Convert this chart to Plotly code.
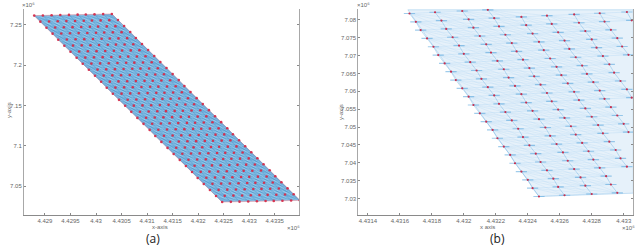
import plotly.graph_objects as go

# ---------- panel (a): outline and red nodes, one list per diagonal (axis units of 1e6) ----------
a_outline_x = [4.42879, 4.43031, 4.43399, 4.43247, 4.42879]
a_outline_y = [7.2616, 7.2637, 7.0322, 7.0301, 7.2616]
a_x = [
 [4.42879,4.42891,4.42903,4.42915,4.42926,4.42938,4.42950,4.42962,4.42974,4.42986,4.42998,4.43010,4.43021,4.43033,4.43045,4.43057,4.43069,4.43081,4.43093,4.43105,4.43116,4.43128,4.43140,4.43152,4.43164,4.43176,4.43188,4.43199,4.43211,4.43223,4.43235,4.43247],
 [4.42896,4.42908,4.42920,4.42932,4.42943,4.42955,4.42967,4.42979,4.42991,4.43003,4.43015,4.43027,4.43038,4.43050,4.43062,4.43074,4.43086,4.43098,4.43110,4.43122,4.43133,4.43145,4.43157,4.43169,4.43181,4.43193,4.43205,4.43216,4.43228,4.43240,4.43252,4.43264],
 [4.42913,4.42925,4.42937,4.42949,4.42960,4.42972,4.42984,4.42996,4.43008,4.43020,4.43032,4.43044,4.43055,4.43067,4.43079,4.43091,4.43103,4.43115,4.43127,4.43139,4.43150,4.43162,4.43174,4.43186,4.43198,4.43210,4.43222,4.43233,4.43245,4.43257,4.43269,4.43281],
 [4.42930,4.42942,4.42954,4.42966,4.42977,4.42989,4.43001,4.43013,4.43025,4.43037,4.43049,4.43061,4.43072,4.43084,4.43096,4.43108,4.43120,4.43132,4.43144,4.43156,4.43167,4.43179,4.43191,4.43203,4.43215,4.43227,4.43239,4.43250,4.43262,4.43274,4.43286,4.43298],
 [4.42947,4.42959,4.42971,4.42983,4.42994,4.43006,4.43018,4.43030,4.43042,4.43054,4.43066,4.43078,4.43089,4.43101,4.43113,4.43125,4.43137,4.43149,4.43161,4.43173,4.43184,4.43196,4.43208,4.43220,4.43232,4.43244,4.43256,4.43267,4.43279,4.43291,4.43303,4.43315],
 [4.42964,4.42976,4.42988,4.43000,4.43011,4.43023,4.43035,4.43047,4.43059,4.43071,4.43083,4.43095,4.43106,4.43118,4.43130,4.43142,4.43154,4.43166,4.43178,4.43190,4.43201,4.43213,4.43225,4.43237,4.43249,4.43261,4.43273,4.43284,4.43296,4.43308,4.43320,4.43332],
 [4.42980,4.42992,4.43004,4.43016,4.43027,4.43039,4.43051,4.43063,4.43075,4.43087,4.43099,4.43111,4.43122,4.43134,4.43146,4.43158,4.43170,4.43182,4.43194,4.43206,4.43217,4.43229,4.43241,4.43253,4.43265,4.43277,4.43289,4.43300,4.43312,4.43324,4.43336,4.43348],
 [4.42997,4.43009,4.43021,4.43033,4.43044,4.43056,4.43068,4.43080,4.43092,4.43104,4.43116,4.43128,4.43139,4.43151,4.43163,4.43175,4.43187,4.43199,4.43211,4.43223,4.43234,4.43246,4.43258,4.43270,4.43282,4.43294,4.43306,4.43317,4.43329,4.43341,4.43353,4.43365],
 [4.43014,4.43026,4.43038,4.43050,4.43061,4.43073,4.43085,4.43097,4.43109,4.43121,4.43133,4.43145,4.43156,4.43168,4.43180,4.43192,4.43204,4.43216,4.43228,4.43240,4.43251,4.43263,4.43275,4.43287,4.43299,4.43311,4.43323,4.43334,4.43346,4.43358,4.43370,4.43382],
 [4.43031,4.43043,4.43055,4.43067,4.43078,4.43090,4.43102,4.43114,4.43126,4.43138,4.43150,4.43162,4.43173,4.43185,4.43197,4.43209,4.43221,4.43233,4.43245,4.43257,4.43268,4.43280,4.43292,4.43304,4.43316,4.43328,4.43340,4.43351,4.43363,4.43375,4.43387,4.43399],
]
a_y = [
 [7.2616,7.2541,7.2466,7.2392,7.2317,7.2242,7.2168,7.2093,7.2018,7.1944,7.1869,7.1794,7.1720,7.1645,7.1570,7.1496,7.1421,7.1346,7.1272,7.1197,7.1122,7.1048,7.0973,7.0898,7.0824,7.0749,7.0674,7.0600,7.0525,7.0450,7.0376,7.0301],
 [7.2618,7.2543,7.2468,7.2394,7.2319,7.2244,7.2170,7.2095,7.2020,7.1946,7.1871,7.1796,7.1722,7.1647,7.1572,7.1498,7.1423,7.1348,7.1274,7.1199,7.1124,7.1050,7.0975,7.0900,7.0826,7.0751,7.0676,7.0602,7.0527,7.0452,7.0378,7.0303],
 [7.2621,7.2546,7.2471,7.2397,7.2322,7.2247,7.2173,7.2098,7.2023,7.1949,7.1874,7.1799,7.1725,7.1650,7.1575,7.1501,7.1426,7.1351,7.1277,7.1202,7.1127,7.1053,7.0978,7.0903,7.0829,7.0754,7.0679,7.0605,7.0530,7.0455,7.0381,7.0306],
 [7.2623,7.2548,7.2473,7.2399,7.2324,7.2249,7.2175,7.2100,7.2025,7.1951,7.1876,7.1801,7.1727,7.1652,7.1577,7.1503,7.1428,7.1353,7.1279,7.1204,7.1129,7.1055,7.0980,7.0905,7.0831,7.0756,7.0681,7.0607,7.0532,7.0457,7.0383,7.0308],
 [7.2625,7.2550,7.2475,7.2401,7.2326,7.2251,7.2177,7.2102,7.2027,7.1953,7.1878,7.1803,7.1729,7.1654,7.1579,7.1505,7.1430,7.1355,7.1281,7.1206,7.1131,7.1057,7.0982,7.0907,7.0833,7.0758,7.0683,7.0609,7.0534,7.0459,7.0385,7.0310],
 [7.2628,7.2553,7.2478,7.2404,7.2329,7.2254,7.2180,7.2105,7.2030,7.1956,7.1881,7.1806,7.1732,7.1657,7.1582,7.1508,7.1433,7.1358,7.1284,7.1209,7.1134,7.1060,7.0985,7.0910,7.0836,7.0761,7.0686,7.0612,7.0537,7.0462,7.0388,7.0313],
 [7.2630,7.2555,7.2480,7.2406,7.2331,7.2256,7.2182,7.2107,7.2032,7.1958,7.1883,7.1808,7.1734,7.1659,7.1584,7.1510,7.1435,7.1360,7.1286,7.1211,7.1136,7.1062,7.0987,7.0912,7.0838,7.0763,7.0688,7.0614,7.0539,7.0464,7.0390,7.0315],
 [7.2632,7.2557,7.2482,7.2408,7.2333,7.2258,7.2184,7.2109,7.2034,7.1960,7.1885,7.1810,7.1736,7.1661,7.1586,7.1512,7.1437,7.1362,7.1288,7.1213,7.1138,7.1064,7.0989,7.0914,7.0840,7.0765,7.0690,7.0616,7.0541,7.0466,7.0392,7.0317],
 [7.2635,7.2560,7.2485,7.2411,7.2336,7.2261,7.2187,7.2112,7.2037,7.1963,7.1888,7.1813,7.1739,7.1664,7.1589,7.1515,7.1440,7.1365,7.1291,7.1216,7.1141,7.1067,7.0992,7.0917,7.0843,7.0768,7.0693,7.0619,7.0544,7.0469,7.0395,7.0320],
 [7.2637,7.2562,7.2487,7.2413,7.2338,7.2263,7.2189,7.2114,7.2039,7.1965,7.1890,7.1815,7.1741,7.1666,7.1591,7.1517,7.1442,7.1367,7.1293,7.1218,7.1143,7.1069,7.0994,7.0919,7.0845,7.0770,7.0695,7.0621,7.0546,7.0471,7.0397,7.0322],
]

# ---------- panel (b): outline and red nodes, one list per row ----------
b_outline_x = [4.43165, 4.43306, 4.43306, 4.43247, 4.43165]
b_outline_y = [7.0828, 7.0828, 7.0315, 7.03057, 7.0828]
b_x = [
 [4.43166,4.43182,4.43199,4.43215],
 [4.43170,4.43186,4.43203,4.43219,4.43236,4.43252,4.43269,4.43285,4.43302],
 [4.43173,4.43189,4.43206,4.43222,4.43239,4.43255,4.43272,4.43288,4.43305],
 [4.43177,4.43193,4.43210,4.43226,4.43243,4.43259,4.43276,4.43292],
 [4.43181,4.43197,4.43214,4.43230,4.43247,4.43263,4.43280,4.43296],
 [4.43184,4.43200,4.43217,4.43233,4.43250,4.43266,4.43283,4.43299],
 [4.43188,4.43204,4.43221,4.43237,4.43254,4.43270,4.43287,4.43303],
 [4.43192,4.43208,4.43225,4.43241,4.43258,4.43274,4.43291],
 [4.43195,4.43211,4.43228,4.43244,4.43261,4.43277,4.43294],
 [4.43199,4.43215,4.43232,4.43248,4.43265,4.43281,4.43298],
 [4.43203,4.43219,4.43236,4.43252,4.43269,4.43285,4.43302],
 [4.43206,4.43222,4.43239,4.43255,4.43272,4.43288,4.43305],
 [4.43210,4.43226,4.43243,4.43259,4.43276,4.43292],
 [4.43214,4.43230,4.43247,4.43263,4.43280,4.43296],
 [4.43218,4.43234,4.43251,4.43267,4.43284,4.43300],
 [4.43221,4.43237,4.43254,4.43270,4.43287,4.43303],
 [4.43225,4.43241,4.43258,4.43274,4.43291],
 [4.43229,4.43245,4.43262,4.43278,4.43295],
 [4.43232,4.43248,4.43265,4.43281,4.43298],
 [4.43236,4.43252,4.43269,4.43285,4.43302],
 [4.43240,4.43256,4.43273,4.43289],
 [4.43243,4.43259,4.43276,4.43292],
 [4.43247,4.43263,4.43280,4.43296],
]
b_y = [
 [7.08176,7.08210,7.08245,7.08279],
 [7.07943,7.07977,7.08012,7.08046,7.08080,7.08115,7.08149,7.08183,7.08217],
 [7.07711,7.07745,7.07780,7.07814,7.07848,7.07883,7.07917,7.07951,7.07985],
 [7.07478,7.07512,7.07547,7.07581,7.07615,7.07650,7.07684,7.07718],
 [7.07245,7.07279,7.07314,7.07348,7.07382,7.07417,7.07451,7.07485],
 [7.07013,7.07047,7.07082,7.07116,7.07150,7.07185,7.07219,7.07253],
 [7.06780,7.06814,7.06849,7.06883,7.06917,7.06952,7.06986,7.07020],
 [7.06547,7.06581,7.06616,7.06650,7.06684,7.06719,7.06753],
 [7.06314,7.06348,7.06383,7.06417,7.06451,7.06486,7.06520],
 [7.06082,7.06116,7.06151,7.06185,7.06219,7.06254,7.06288],
 [7.05849,7.05883,7.05918,7.05952,7.05986,7.06021,7.06055],
 [7.05616,7.05650,7.05685,7.05719,7.05753,7.05788,7.05822],
 [7.05384,7.05418,7.05453,7.05487,7.05521,7.05556],
 [7.05151,7.05185,7.05220,7.05254,7.05288,7.05323],
 [7.04918,7.04952,7.04987,7.05021,7.05055,7.05090],
 [7.04686,7.04720,7.04755,7.04789,7.04823,7.04858],
 [7.04453,7.04487,7.04522,7.04556,7.04590],
 [7.04220,7.04254,7.04289,7.04323,7.04357],
 [7.03987,7.04021,7.04056,7.04090,7.04124],
 [7.03755,7.03789,7.03824,7.03858,7.03892],
 [7.03522,7.03556,7.03591,7.03625],
 [7.03289,7.03323,7.03358,7.03392],
 [7.03057,7.03091,7.03126,7.03160],
]

# ---------- ticks ----------
a_xticks = [4.429, 4.4295, 4.43, 4.4305, 4.431, 4.4315, 4.432, 4.4325, 4.433, 4.4335]
a_xlabels = ["4.429", "4.4295", "4.43", "4.4305", "4.431", "4.4315", "4.432", "4.4325", "4.433", "4.4335"]
a_yticks = [7.05, 7.1, 7.15, 7.2, 7.25]
a_ylabels = ["7.05", "7.1", "7.15", "7.2", "7.25"]
b_xticks = [4.4314, 4.4316, 4.4318, 4.432, 4.4322, 4.4324, 4.4326, 4.4328, 4.433]
b_xlabels = ["4.4314", "4.4316", "4.4318", "4.432", "4.4322", "4.4324", "4.4326", "4.4328", "4.433"]
b_yticks = [7.03, 7.035, 7.04, 7.045, 7.05, 7.055, 7.06, 7.065, 7.07, 7.075, 7.08]
b_ylabels = ["7.03", "7.035", "7.04", "7.045", "7.05", "7.055", "7.06", "7.065", "7.07", "7.075", "7.08"]


def flat(nested):
    return [v for row in nested for v in row]


def links(nx, ny, di, dj):
    """Polyline pieces joining node (r, c) to node (r + di, c + dj)."""
    xs, ys = [], []
    for r in range(len(nx)):
        for c in range(len(nx[r])):
            r2, c2 = r + di, c + dj
            if 0 <= r2 < len(nx) and 0 <= c2 < len(nx[r2]):
                xs += [nx[r][c], nx[r2][c2], None]
                ys += [ny[r][c], ny[r2][c2], None]
    return xs, ys


def line(xs, ys, color, width, ax):
    return go.Scatter(x=xs, y=ys, mode="lines", line=dict(color=color, width=width),
                      xaxis="x" + ax, yaxis="y" + ax, hoverinfo="skip", showlegend=False)


fig = go.Figure()

# Panel (a)
fig.add_trace(go.Scatter(x=a_outline_x, y=a_outline_y, mode="lines", fill="toself",
                         fillcolor="#74b4df", line=dict(color="rgba(225,120,135,0.6)", width=0.8),
                         xaxis="x", yaxis="y", hoverinfo="skip", showlegend=False))
for (di, dj), col, w in [((1, 2), "rgba(215,238,250,0.40)", 0.7),
                         ((1, 3), "rgba(45,125,190,0.35)", 0.7),
                         ((2, 1), "rgba(215,238,250,0.35)", 0.7),
                         ((1, 1), "rgba(45,125,190,0.30)", 0.7),
                         ((0, 1), "rgba(55,130,195,0.40)", 0.8)]:
    xs, ys = links(a_x, a_y, di, dj)
    fig.add_trace(line(xs, ys, col, w, ""))
fig.add_trace(go.Scatter(x=flat(a_x), y=flat(a_y), mode="markers",
                         marker=dict(color="rgba(214,45,75,0.95)", size=2.6, line=dict(width=0)),
                         xaxis="x", yaxis="y", hoverinfo="skip", showlegend=False))

# Panel (b)
fig.add_trace(go.Scatter(x=b_outline_x, y=b_outline_y, mode="lines", fill="toself",
                         fillcolor="#e6f1fa", line=dict(color="rgba(130,188,230,0.7)", width=0.6),
                         xaxis="x2", yaxis="y2", hoverinfo="skip", showlegend=False))
for (di, dj), col, w in [((0, 1), "rgba(165,208,240,0.6)", 0.5),
                         ((1, 1), "rgba(170,212,242,0.55)", 0.5),
                         ((1, 2), "rgba(170,212,242,0.5)", 0.5),
                         ((2, 1), "rgba(170,212,242,0.5)", 0.5),
                         ((1, 0), "rgba(105,175,225,0.7)", 0.6)]:
    xs, ys = links(b_x, b_y, di, dj)
    fig.add_trace(line(xs, ys, col, w, "2"))
fig.add_trace(go.Scatter(x=flat(b_x), y=flat(b_y), mode="markers",
                         marker=dict(symbol="line-ew", size=8, line=dict(color="rgba(95,170,222,0.6)", width=1.2)),
                         xaxis="x2", yaxis="y2", hoverinfo="skip", showlegend=False))
fig.add_trace(go.Scatter(x=flat(b_x), y=flat(b_y), mode="markers",
                         marker=dict(color="#c9304f", size=2.2, line=dict(width=0)),
                         xaxis="x2", yaxis="y2", hoverinfo="skip", showlegend=False))

AXC = "#8a8a8a"
TXT = "#666666"
W, H = 640, 246
ydom = [1 - 215 / H, 1 - 8.7 / H]
dom_a = [24 / W, 299.3 / W]
dom_b = [358.3 / W, 633.3 / W]
range_ax = [4.42859, 4.43398]
range_ay = [7.014, 7.2702]
range_bx = [4.43134, 4.43306]
range_by = [7.02539, 7.0831]


def xaxis(dom, rng, tv, tt, anchor):
    return dict(domain=dom, range=rng, tickvals=tv, ticktext=tt, ticks="inside", ticklen=2,
                tickcolor=AXC, tickwidth=1, showgrid=False, zeroline=False, showline=True,
                linecolor=AXC, linewidth=1, anchor=anchor,
                tickfont=dict(size=6, color=TXT, family="Liberation Sans"))


def yaxis(dom, rng, tv, tt, anchor):
    return dict(domain=dom, range=rng, tickvals=tv, ticktext=tt, ticks="inside", ticklen=2,
                tickcolor=AXC, tickwidth=1, showgrid=False, zeroline=False, showline=True,
                mirror="ticks", linecolor="#a8a8a8", linewidth=1, anchor=anchor,
                tickfont=dict(size=6, color=TXT, family="Liberation Sans"))


def ann(x, y, text, size=6, color=TXT, angle=0, family="Liberation Sans"):
    return dict(x=x / W, y=1 - y / H, xref="paper", yref="paper", text=text, showarrow=False,
                font=dict(size=size, color=color, family=family), textangle=angle,
                xanchor="center", yanchor="middle")


fig.update_layout(
    width=W, height=H, autosize=False, margin=dict(l=0, r=0, t=0, b=0),
    paper_bgcolor="white", plot_bgcolor="white", showlegend=False,
    xaxis=xaxis(dom_a, range_ax, a_xticks, a_xlabels, "y"),
    yaxis=yaxis(ydom, range_ay, a_yticks, a_ylabels, "x"),
    xaxis2=xaxis(dom_b, range_bx, b_xticks, b_xlabels, "y2"),
    yaxis2=yaxis(ydom, range_by, b_yticks, b_ylabels, "x2"),
    annotations=[
        ann(160, 227, "x-axis"),
        ann(9, 110, "y-axis", angle=-90),
        ann(28, 5, "×10⁶"),
        ann(293, 228, "×10⁶"),
        ann(153, 238, "(a)", size=12, color="#222222", family="Open Sans"),
        ann(487, 227, "x axis"),
        ann(341, 112, "y-axis", angle=-90),
        ann(363, 5, "×10⁶"),
        ann(628, 228, "×10⁶"),
        ann(497, 238, "(b)", size=12, color="#222222", family="Open Sans"),
    ],
)

fig.write_html("out.html", config={"displayModeBar": False},
               post_script="document.documentElement.style.overflow='hidden';document.body.style.margin='0';document.body.style.padding='0';")
